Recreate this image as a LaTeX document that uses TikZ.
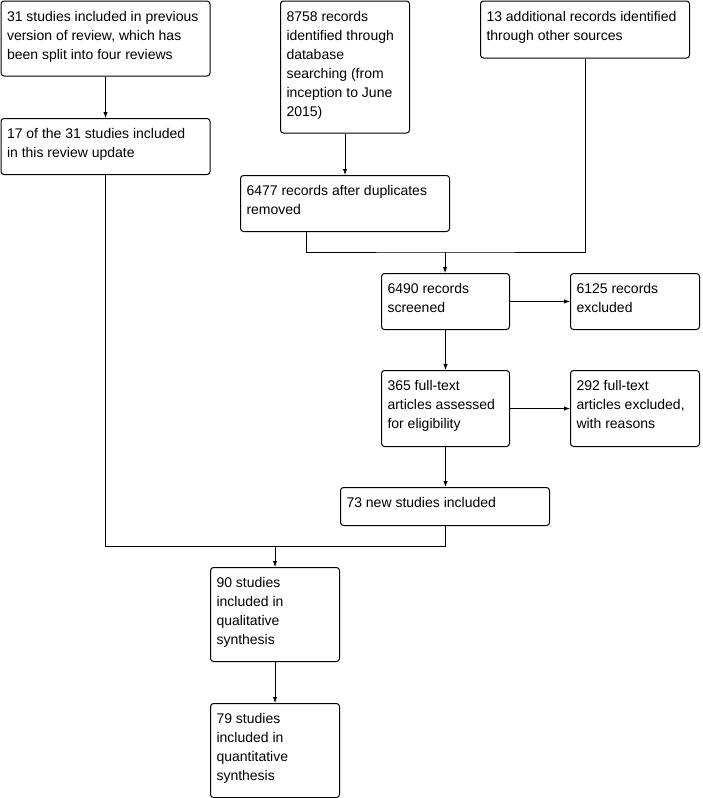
\documentclass[tikz,border=0pt]{standalone}
\usepackage{fontspec}
\setmainfont{Liberation Sans}
\usetikzlibrary{arrows.meta}
\newcommand{\bxt}[3]{\parbox[t][#2pt][t]{#1pt}{\fontsize{14}{19}\selectfont\raggedright\leftskip=6pt\rule{0pt}{20pt}#3}}
\tikzset{
  box/.style={draw, line width=1pt, rounded corners=3pt, inner sep=0pt, anchor=north west},
  conn/.style={line width=1pt},
  arr/.style={line width=1pt, -{Latex[length=6pt,width=4.5pt]}}
}
\begin{document}
\begin{tikzpicture}[x=1pt,y=-1pt]
\useasboundingbox (0,0) rectangle (702,798);
\node[box] (b1) at (0.5,0.5) {\bxt{209}{75}{31 studies included in previous\\version of review, which has\\been split into four reviews}};
\node[box] (b2) at (280,0.5) {\bxt{129}{132}{8758 records\\identified through\\database\\searching (from\\inception to June\\2015)}};
\node[box] (b3) at (480,0.5) {\bxt{209}{57}{13 additional records identified\\through other sources}};
\node[box] (b4) at (0.5,118) {\bxt{209}{56}{17 of the 31 studies included\\in this review update}};
\node[box] (b5) at (240,175) {\bxt{209}{56}{6477 records after duplicates\\removed}};
\node[box] (b6) at (381,273) {\bxt{128}{56}{6490 records\\screened}};
\node[box] (b7) at (570,273) {\bxt{129}{56}{6125 records\\excluded}};
\node[box] (b8) at (381,370) {\bxt{128}{76}{365 full-text\\articles assessed\\for eligibility}};
\node[box] (b9) at (570,370) {\bxt{129}{76}{292 full-text\\articles excluded,\\with reasons}};
\node[box] (b10) at (340,487) {\bxt{209}{38}{73 new studies included}};
\node[box] (b11) at (210,567) {\bxt{129}{94}{90 studies\\included in\\qualitative\\synthesis}};
\node[box] (b12) at (210,703) {\bxt{129}{94}{79 studies\\included in\\quantitative\\synthesis}};
\coordinate (m1) at (445,252);
\coordinate (m2) at (275,546);
\draw[arr] (b1.south) -- (b4.north);
\draw[arr] (b2.south) -- (b2.south |- b5.north);
\draw[conn] ([xshift=66pt]b5.south west) |- (m1) -| (b3.south);
\draw[arr] (m1) -- (m1 |- b6.north);
\draw[arr] (b6.east) -- (b7.west);
\draw[arr] (b6.south) -- (b8.north);
\draw[arr] (b8.east) -- (b9.west);
\draw[arr] (b8.south) -- (b8.south |- b10.north);
\draw[conn] (b4.south) |- (m2);
\draw[conn] (b8.south |- b10.south) |- (m2);
\draw[arr] (m2) -- (m2 |- b11.north);
\draw[arr] (b11.south) -- (b12.north);
\end{tikzpicture}
\end{document}
